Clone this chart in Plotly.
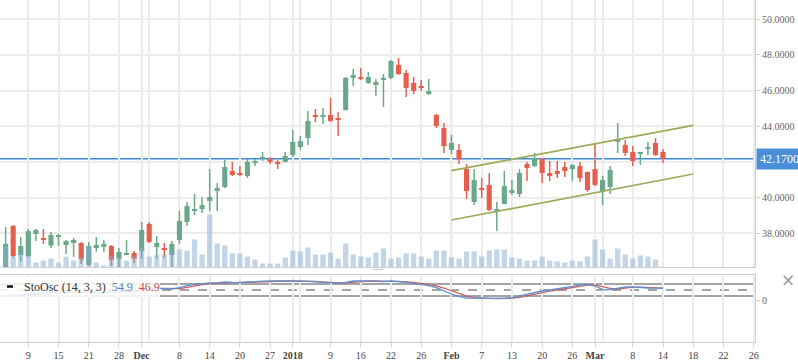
import plotly.graph_objects as go

# ---------------- data ----------------
dates = ["2017-11-06","2017-11-07","2017-11-08","2017-11-09","2017-11-10","2017-11-13","2017-11-14","2017-11-15",
         "2017-11-16","2017-11-17","2017-11-20","2017-11-21","2017-11-22","2017-11-24","2017-11-27","2017-11-28",
         "2017-11-29","2017-11-30","2017-12-01","2017-12-04","2017-12-05","2017-12-06","2017-12-07","2017-12-08",
         "2017-12-11","2017-12-12","2017-12-13","2017-12-14","2017-12-15","2017-12-18","2017-12-19","2017-12-20",
         "2017-12-21","2017-12-22","2017-12-26","2017-12-27","2017-12-28","2017-12-29","2018-01-02","2018-01-03",
         "2018-01-04","2018-01-05","2018-01-08","2018-01-09","2018-01-10","2018-01-11","2018-01-12","2018-01-16",
         "2018-01-17","2018-01-18","2018-01-19","2018-01-22","2018-01-23","2018-01-24","2018-01-25","2018-01-26",
         "2018-01-29","2018-01-30","2018-01-31","2018-02-01","2018-02-02","2018-02-05","2018-02-06","2018-02-07",
         "2018-02-08","2018-02-09","2018-02-12","2018-02-13","2018-02-14","2018-02-15","2018-02-16","2018-02-20",
         "2018-02-21","2018-02-22","2018-02-23","2018-02-26","2018-02-27","2018-02-28","2018-03-01","2018-03-02",
         "2018-03-05","2018-03-06","2018-03-07","2018-03-08","2018-03-09","2018-03-12","2018-03-13","2018-03-14"]

opens = [35.90, 38.41, 36.78, 36.72, 37.96, 37.73, 37.31, 37.79, 37.34, 37.45,
         37.45, 36.22, 37.17, 37.23, 37.28, 36.56, 36.83, 36.89, 37.00, 38.52,
         37.23, 37.12, 36.78, 37.62, 38.63, 39.26, 39.36, 39.81, 40.37, 40.59,
         41.49, 41.38, 41.21, 41.94, 42.16, 42.16, 42.00, 42.00, 42.39, 42.84,
         43.34, 44.58, 44.52, 44.63, 44.41, 44.91, 46.71, 46.71, 46.43, 46.32,
         46.60, 46.71, 47.44, 46.99, 46.43, 46.20, 45.81, 44.63, 43.90, 42.67,
         42.67, 41.60, 39.75, 40.54, 40.71, 39.25, 39.64, 40.31, 40.20, 41.88,
         41.77, 42.16, 41.38, 41.49, 41.71, 41.60, 41.77, 41.43, 41.60, 40.37,
         40.59, 43.12, 42.95, 42.56, 42.45, 42.73, 43.06, 42.56]
highs = [38.35, 38.46, 37.79, 38.24, 38.24, 38.24, 38.07, 37.96, 37.62, 37.73,
         37.51, 37.51, 37.79, 37.62, 37.34, 37.17, 37.62, 37.00, 38.63, 38.63,
         37.85, 37.45, 37.56, 39.25, 39.75, 40.20, 40.03, 41.60, 40.82, 42.11,
         42.00, 41.77, 42.16, 42.16, 42.56, 42.28, 42.11, 42.56, 43.79, 43.45,
         44.86, 44.97, 45.02, 45.59, 44.80, 46.76, 47.21, 47.27, 47.04, 46.65,
         46.93, 47.72, 47.83, 47.16, 46.76, 46.60, 46.65, 44.69, 44.18, 43.51,
         43.01, 41.88, 41.60, 41.10, 41.38, 39.75, 41.49, 40.99, 41.60, 42.00,
         42.50, 42.22, 42.05, 42.05, 42.00, 41.88, 42.00, 41.46, 43.06, 41.21,
         41.77, 44.18, 43.23, 42.89, 42.56, 43.12, 43.34, 42.73]
lows = [35.80, 36.61, 36.39, 36.64, 37.56, 37.40, 37.17, 37.28, 36.83, 36.67,
        36.27, 36.16, 36.97, 36.95, 36.16, 36.05, 36.78, 36.33, 36.55, 37.45,
        36.55, 36.61, 36.10, 37.40, 38.41, 39.02, 39.13, 39.25, 39.25, 40.54,
        41.21, 41.21, 41.10, 41.77, 42.05, 41.88, 41.60, 42.00, 42.28, 42.67,
        42.95, 44.24, 44.13, 44.24, 43.45, 44.88, 46.26, 46.60, 46.37, 45.70,
        45.08, 46.65, 46.88, 45.64, 45.81, 45.98, 45.75, 43.90, 42.50, 42.42,
        41.88, 39.92, 39.58, 39.98, 39.25, 38.13, 39.61, 40.14, 40.03, 40.93,
        41.72, 40.82, 40.93, 41.10, 41.15, 40.93, 40.87, 40.31, 40.65, 39.58,
        40.20, 42.50, 42.33, 41.77, 41.83, 42.39, 42.33, 41.94]
closes = [37.40, 36.72, 37.28, 38.12, 38.18, 37.62, 37.90, 37.85, 37.56, 37.62,
          36.53, 37.28, 37.34, 37.40, 36.50, 36.95, 36.89, 36.56, 38.18, 37.51,
          37.45, 37.06, 37.40, 38.69, 39.53, 39.32, 39.58, 40.03, 40.54, 41.71,
          41.27, 41.27, 42.00, 42.05, 42.28, 42.00, 41.88, 42.33, 43.12, 43.17,
          44.30, 44.52, 44.58, 44.30, 44.35, 46.71, 46.88, 46.65, 46.76, 46.48,
          46.71, 47.66, 46.93, 46.15, 45.98, 46.15, 45.98, 44.02, 42.89, 43.06,
          42.14, 40.37, 40.99, 40.48, 39.30, 39.30, 40.65, 40.42, 41.38, 41.66,
          42.22, 41.38, 41.21, 41.32, 41.49, 41.83, 41.10, 40.42, 40.71, 40.99,
          41.55, 43.29, 42.50, 42.05, 42.50, 42.78, 42.39, 42.17]
volumes_m = [4.1, 2.1, 2.9, 2.2, 0.9, 1.3, 1.7, 0.9, 2.1, 1.3,
             1.9, 4.0, 0.9, 0.3, 2.1, 1.9, 1.3, 2.1, 3.9, 2.1,
             2.5, 2.5, 3.3, 3.5, 3.3, 5.5, 2.5, 10.5, 4.7, 4.3,
             2.7, 2.7, 2.1, 1.5, 0.7, 0.7, 0.7, 1.9, 3.3, 3.1,
             3.9, 2.5, 2.5, 2.9, 1.7, 4.7, 2.5, 2.1, 1.9, 2.9,
             3.7, 1.7, 1.9, 2.7, 2.7, 2.1, 1.7, 3.3, 3.3, 1.9,
             1.7, 3.1, 3.1, 2.1, 3.3, 3.5, 3.5, 1.9, 1.7, 1.3,
             1.3, 2.1, 1.3, 1.1, 0.9, 1.3, 1.1, 2.1, 5.5, 3.5,
             1.7, 3.7, 2.5, 1.7, 2.3, 2.1, 1.5, 0.1]
sto_k = [20, 22, 25, 30, 33, 35, 38, 40, 40, 40,
         38, 36, 38, 40, 40, 38, 40, 45, 55, 60,
         58, 55, 55, 62, 72, 78, 82, 85, 86, 90,
         88, 87, 90, 92, 95, 96, 95, 95, 95, 94,
         93, 91, 88, 85, 84, 88, 95, 96, 95, 93,
         92, 95, 93, 88, 83, 78, 72, 62, 45, 30,
         18, 10, 9, 8, 7, 7, 8, 12, 20, 30,
         38, 45, 50, 55, 60, 68, 75, 78, 70, 52,
         52, 60, 65, 66, 62, 60, 59, 58]
sto_d = [22, 21, 22, 26, 29, 33, 35, 37, 39, 40,
         39, 38, 37, 38, 39, 39, 39, 41, 47, 53,
         58, 58, 56, 57, 63, 71, 77, 82, 84, 87,
         88, 88, 88, 90, 92, 94, 95, 95, 95, 95,
         94, 93, 91, 88, 86, 86, 89, 93, 95, 95,
         93, 93, 93, 92, 88, 83, 78, 71, 60, 46,
         31, 19, 12, 9, 8, 7, 7, 9, 13, 21,
         29, 38, 44, 50, 55, 61, 68, 74, 74, 67,
         58, 55, 59, 64, 64, 63, 61, 59]
sto_last_k = "54.9"
sto_last_d = "46.9"

# bar positions of x labels / grid (trading-day index; future days counted on calendar)
tick_pos = [3, 7, 11, 15, 18, 23, 27, 31, 35, 38, 43, 47, 51, 55, 59, 63, 67, 71, 75, 78, 83, 87, 91, 95, 99]
tick_text = ["9", "15", "21", "28", "<b>Dec</b>", "8", "14", "20", "27", "<b>2018</b>", "9", "16", "22", "26",
             "<b>Feb</b>", "7", "13", "20", "26", "<b>Mar</b>", "8", "14", "18", "22", "26"]
extra_grid = [19, 39, 79]
month_pos = [18, 38, 59, 78]
price_ticks = [38, 40, 42, 44, 46, 48, 50]
price_tick_text = ["38.0000", "40.0000", "", "44.0000", "46.0000", "48.0000", "50.0000"]
channel_x = [59, 91]
channel_upper = [41.51, 44.05]
channel_lower = [38.74, 41.32]
sto_levels = [80, 20]
sto_mid = 50

# ---------------- style ----------------
FONT = "Liberation Serif"
UP = "#6aa88a"
DOWN = "#e65f4c"
GRID = "#ececec"
AX = "#cfcfcf"
XR = [-0.745, 99.17]
PW = 755.0   # plot width in px
PH = 342.0   # plot height in px
idx = list(range(len(closes)))

fig = go.Figure()

# wicks
for color, up in ((UP, True), (DOWN, False)):
    wx, wy = [], []
    for i in idx:
        if (closes[i] >= opens[i]) == up:
            wx += [i, i, None]
            wy += [lows[i], highs[i], None]
    fig.add_trace(go.Scatter(x=wx, y=wy, mode="lines", line=dict(color=color, width=1.5),
                             xaxis="x2", yaxis="y2", hoverinfo="skip", showlegend=False))

# bodies
body_base = [min(o, c) for o, c in zip(opens, closes)]
body_h = [max(abs(c - o), 0.06) for o, c in zip(opens, closes)]
body_col = [UP if c >= o else DOWN for o, c in zip(opens, closes)]
fig.add_trace(go.Bar(x=idx, y=body_h, base=body_base, width=0.68,
                     marker=dict(color=body_col, line=dict(width=0)),
                     xaxis="x2", yaxis="y2", hovertext=dates, showlegend=False))

# channel
for ch in (channel_upper, channel_lower):
    fig.add_trace(go.Scatter(x=channel_x, y=ch, mode="lines", line=dict(color="#9aab5a", width=1.7),
                             xaxis="x2", yaxis="y2", hoverinfo="skip", showlegend=False))

# volume overlay
fig.add_trace(go.Bar(x=idx, y=volumes_m, width=0.7, marker=dict(color="rgba(135,172,210,0.5)", line=dict(width=0)),
                     xaxis="x2", yaxis="y3", hoverinfo="skip", showlegend=False))

# stochastic
fig.add_trace(go.Scatter(x=idx, y=sto_d, mode="lines", line=dict(color="#c9605c", width=1.3),
                         xaxis="x", yaxis="y", hoverinfo="skip", showlegend=False))
fig.add_trace(go.Scatter(x=idx, y=sto_k, mode="lines", line=dict(color="#5f8fcf", width=1.3),
                         xaxis="x", yaxis="y", hoverinfo="skip", showlegend=False))

shapes = []
for m in month_pos:
    shapes.append(dict(type="line", xref="x2", yref="y2 domain", x0=m, x1=m, y0=0, y1=1,
                       line=dict(color="#c6c6c6", width=1.5), layer="below"))
    shapes.append(dict(type="line", xref="x", yref="y domain", x0=m, x1=m, y0=0, y1=1,
                       line=dict(color="#c6c6c6", width=1.5), layer="below"))
shapes.append(dict(type="line", xref="x2 domain", yref="y2", x0=0, x1=1, y0=closes[-1], y1=closes[-1],
                   line=dict(color="#3d87d6", width=1.5), layer="below"))
for lv in sto_levels:
    shapes.append(dict(type="line", xref="x domain", yref="y", x0=0, x1=1, y0=lv, y1=lv,
                       line=dict(color="#4a4a4a", width=1), layer="below"))
shapes.append(dict(type="line", xref="x domain", yref="y", x0=0, x1=1, y0=sto_mid, y1=sto_mid,
                   line=dict(color="#4a4a4a", width=1, dash="dash"), layer="below"))
# pane resize handle
for dy in (0.0, 0.006):
    shapes.append(dict(type="line", xref="paper", yref="paper", x0=0.493, x1=0.508,
                       y0=0.212 + dy, y1=0.212 + dy, line=dict(color="#c8c8c8", width=1)))
# indicator legend box + marker
shapes.append(dict(type="rect", xref="paper", yref="paper", x0=0, x1=160 / PW,
                   y0=(PH - 297) / PH, y1=(PH - 277) / PH,
                   fillcolor="rgba(255,255,255,0.85)", line=dict(width=0), layer="above"))
shapes.append(dict(type="line", xref="paper", yref="paper", x0=7 / PW, x1=13 / PW,
                   y0=(PH - 286.5) / PH, y1=(PH - 286.5) / PH,
                   line=dict(color="#111111", width=2.5), layer="above"))

annotations = [
    dict(xref="paper", yref="paper", x=22 / PW, y=(PH - 287) / PH, xanchor="left", yanchor="middle",
         showarrow=False, align="left",
         text=("StoOsc (14, 3, 3)&nbsp;&nbsp;<span style='color:#4f7fc0'>" + sto_last_k +
               "</span>&nbsp;&nbsp;<span style='color:#c0504d'>" + sto_last_d + "</span>"),
         font=dict(family=FONT, size=12, color="#333333")),
    dict(xref="paper", yref="y2", x=1, y=closes[-1], xanchor="left", yanchor="middle", xshift=1,
         showarrow=False, text=f"{closes[-1]:.4f}", font=dict(family=FONT, size=12, color="white"),
         bgcolor="#4a8fd8", borderpad=3),
    dict(xref="paper", yref="paper", x=788 / PW, y=(PH - 280) / PH, xanchor="center", yanchor="middle",
         showarrow=False, text="×", font=dict(family="DejaVu Sans", size=17, color="#9a9a9a")),
]

fig.update_layout(
    width=798, height=363,
    margin=dict(l=0, r=43, t=0, b=21),
    paper_bgcolor="white", plot_bgcolor="white",
    barmode="overlay", showlegend=False,
    font=dict(family=FONT, size=10, color="#555555"),
    xaxis=dict(domain=[0, 1], anchor="y", range=XR, tickmode="array", tickvals=tick_pos, ticktext=tick_text,
               showgrid=True, gridcolor=GRID, gridwidth=1.5, zeroline=False,
               minor=dict(tickmode="array", tickvals=extra_grid, showgrid=True, gridcolor=GRID, gridwidth=1.5, ticks=""),
               showline=True, linecolor=AX, mirror=True, ticks="outside", ticklen=4, tickcolor=AX,
               tickfont=dict(family=FONT, size=10, color="#444444"), fixedrange=True),
    yaxis=dict(domain=[0, 0.1959], anchor="x", range=[-210, 125], side="right",
               tickmode="array", tickvals=[0], ticktext=["0"], showgrid=False, zeroline=False,
               showline=True, linecolor=AX, ticks="outside", ticklen=4, tickcolor=AX,
               tickfont=dict(family=FONT, size=10, color="#666666")),
    xaxis2=dict(domain=[0, 1], anchor="y2", range=XR, tickmode="array", tickvals=tick_pos,
                showticklabels=False, showgrid=True, gridcolor=GRID, gridwidth=1.5, zeroline=False,
                minor=dict(tickmode="array", tickvals=extra_grid, showgrid=True, gridcolor=GRID, gridwidth=1.5, ticks=""),
                showline=True, linecolor=AX, ticks=""),
    yaxis2=dict(domain=[0.2193, 1], anchor="x2", range=[36.106, 51.08], side="right",
                tickmode="array", tickvals=price_ticks, ticktext=price_tick_text,
                showgrid=True, gridcolor=GRID, gridwidth=1.5, zeroline=False,
                showline=True, linecolor=AX, ticks="outside", ticklen=4, tickcolor=AX,
                tickfont=dict(family=FONT, size=10, color="#666666")),
    yaxis3=dict(overlaying="y2", anchor="x2", range=[0, 53.4], visible=False),
    shapes=shapes,
    annotations=annotations,
)

fig.write_html("out.html", config={"displayModeBar": False},
               post_script="document.body.style.margin='0';document.body.style.overflow='hidden';")
